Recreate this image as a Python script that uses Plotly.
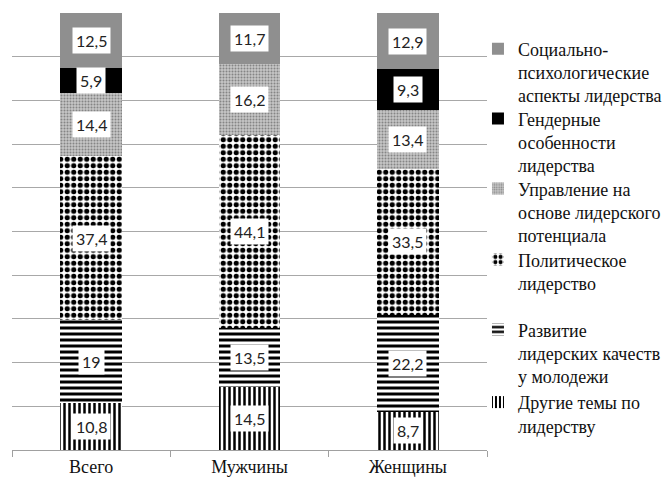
import plotly.graph_objects as go

# Categories and series (stacked from bottom to top)
categories = ["Всего", "Мужчины", "Женщины"]

other_topics = [10.8, 14.5, 8.7]
youth_development = [19, 13.5, 22.2]
political = [37.4, 44.1, 33.5]
potential_management = [14.4, 16.2, 13.4]
gender = [5.9, None, 9.3]
social_psych = [12.5, 11.7, 12.9]

series_names = [
    "Другие темы по<br>лидерству",
    "Развитие<br>лидерских качеств<br>у молодежи",
    "Политическое<br>лидерство",
    "Управление на<br>основе лидерского<br>потенциала",
    "Гендерные<br>особенности<br>лидерства",
    "Социально-<br>психологические<br>аспекты лидерства",
]
series_values = [other_topics, youth_development, political,
                 potential_management, gender, social_psych]

# Fill styles per series
styles = [
    dict(color="white", pattern=dict(shape="|", fgcolor="black", bgcolor="white", size=5, solidity=0.5, fillmode="replace")),
    dict(color="white", pattern=dict(shape="-", fgcolor="black", bgcolor="white", size=6, solidity=0.5, fillmode="replace")),
    dict(color="white", pattern=dict(shape=".", fgcolor="black", bgcolor="white", size=6.5, solidity=0.5, fillmode="replace")),
    dict(color="#b4b4b4", pattern=dict(shape=".", fgcolor="#858585", bgcolor="#c6c6c6", size=3, solidity=0.35, fillmode="replace")),
    dict(color="black"),
    dict(color="#8f8f8f"),
]

# One legend box per series so the entries sit at their own heights
legend_ids = ["legend6", "legend5", "legend4", "legend3", "legend2", "legend"]
legend_tops = {"legend": 0.96, "legend2": 0.80, "legend3": 0.64,
               "legend4": 0.4775, "legend5": 0.3174, "legend6": 0.1513}

fig = go.Figure()
for name, vals, st, lg in zip(series_names, series_values, styles, legend_ids):
    fig.add_trace(go.Bar(
        x=categories, y=vals, name=name, marker=dict(line=dict(width=0), **st),
        legend=lg, hoverinfo="skip",
    ))

# Value labels in white boxes at the middle of each segment
base = [0.0] * len(categories)
for vals in series_values:
    for i, v in enumerate(vals):
        if v is None:
            continue
        fig.add_annotation(
            x=categories[i], y=base[i] + v / 2,
            text=f"{v:g}".replace(".", ","),
            showarrow=False, bgcolor="white", borderpad=3,
            font=dict(family="Lato", size=16, color="#222222"),
        )
        base[i] += v

serif = "Liberation Serif"
legend_font = dict(family=serif, size=18, color="#111111")
legend_layout = {
    key: dict(x=0.981, xanchor="left", y=top, yanchor="top", valign="top",
              font=legend_font, itemwidth=30, bgcolor="rgba(0,0,0,0)")
    for key, top in legend_tops.items()
}

fig.update_layout(
    width=672, height=481,
    margin=dict(l=12, r=185, t=13, b=31, autoexpand=False),
    paper_bgcolor="white", plot_bgcolor="white",
    barmode="stack", bargap=0.61,
    showlegend=True,
    **legend_layout,
    xaxis=dict(
        showline=True, linecolor="#a0a0a0", linewidth=1, automargin=False,
        ticks="outside", tickson="boundaries", ticklen=6, tickcolor="#a0a0a0",
        tickfont=dict(family=serif, size=18, color="#111111"),
        showgrid=False,
    ),
    yaxis=dict(
        range=[0, 100], dtick=10, showgrid=True, gridcolor="#a8a8a8", gridwidth=1,
        showticklabels=False, zeroline=False, showline=False, automargin=False,
    ),
)

fig.write_html("out.html")
